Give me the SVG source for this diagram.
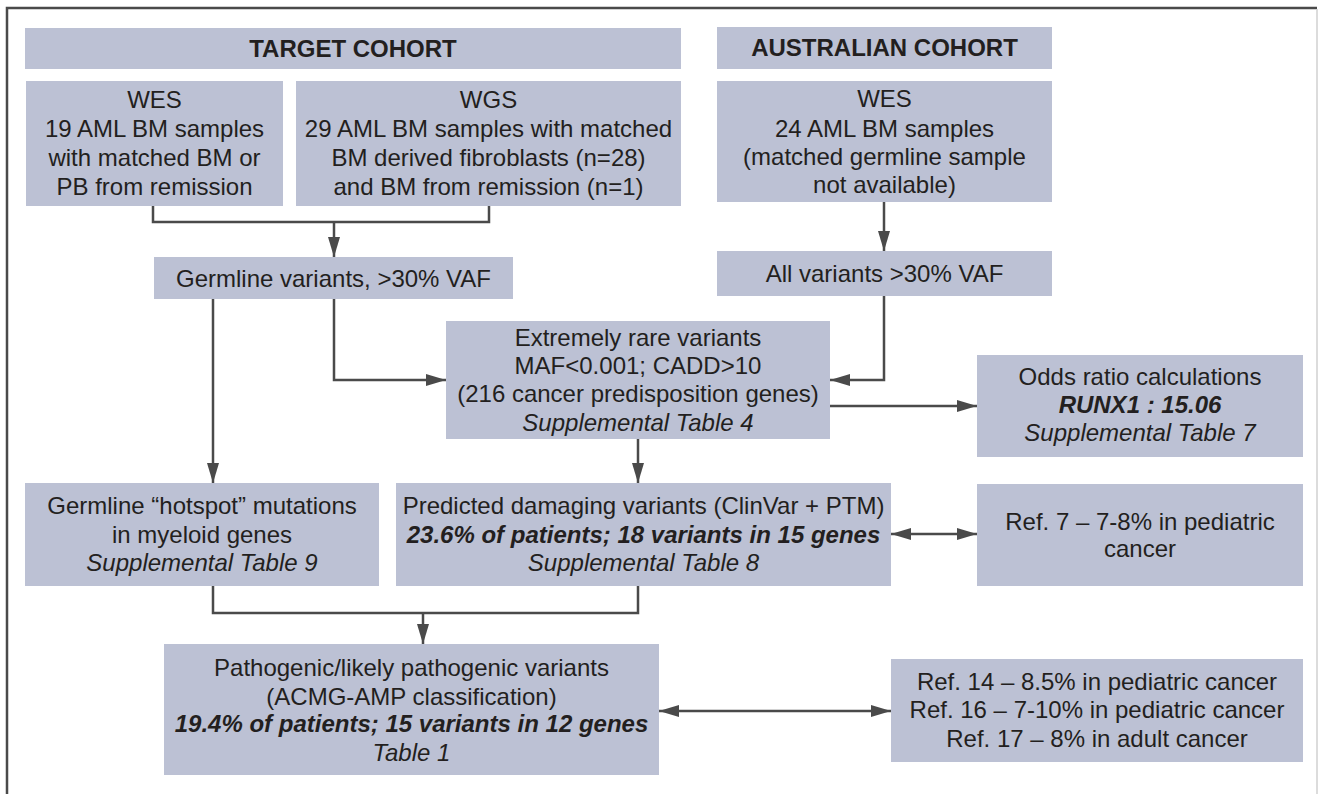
<svg xmlns="http://www.w3.org/2000/svg" width="1318" height="794" viewBox="0 0 1318 794">
<style>
.box{fill:#bcc1d4}
text{font-family:"Liberation Sans",Arial,sans-serif;font-size:24px;fill:#231f20;text-anchor:middle}
.hd{font-weight:bold}
.it{font-style:italic}
.bi{font-style:italic;font-weight:bold}
.c{fill:none;stroke:#4a4a4a;stroke-width:2.5}
</style>
<defs>
<marker id="ah" viewBox="0 0 20 12" markerUnits="userSpaceOnUse" markerWidth="20" markerHeight="12" refX="20" refY="6" orient="auto-start-reverse">
<path d="M0,0 L20,6 L0,12 z" fill="#4a4a4a"/>
</marker>
</defs>
<rect x="0" y="0" width="1318" height="794" fill="#ffffff"/>
<path d="M7,794 V8 H1317" fill="none" stroke="#4a4a4a" stroke-width="2.5"/>
<path d="M1317,9 V794" fill="none" stroke="#d0d0d0" stroke-width="1.5"/>

<g id="target-header"><rect class="box" x="25" y="28" width="656" height="41"/><text class="hd" x="353" y="56.5">TARGET COHORT</text></g>
<g id="aus-header"><rect class="box" x="717" y="27" width="335" height="42"/><text class="hd" x="884.5" y="56">AUSTRALIAN COHORT</text></g>
<g id="wes-target"><rect class="box" x="26" y="81" width="257" height="125"/>
<text x="154.5" y="107.5">WES</text><text x="154.5" y="136.5">19 AML BM samples</text><text x="154.5" y="165.5">with matched BM or</text><text x="154.5" y="194.5">PB from remission</text></g>
<g id="wgs-target"><rect class="box" x="296" y="81" width="385" height="125"/>
<text x="488.5" y="107.5">WGS</text><text x="488.5" y="136.5">29 AML BM samples with matched</text><text x="488.5" y="165.5">BM derived fibroblasts (n=28)</text><text x="488.5" y="194.5">and BM from remission (n=1)</text></g>
<g id="wes-aus"><rect class="box" x="717" y="81" width="335" height="121"/>
<text x="884.5" y="106.5">WES</text><text x="884.5" y="136.5">24 AML BM samples</text><text x="884.5" y="164.5">(matched germline sample</text><text x="884.5" y="192.5">not available)</text></g>
<g id="germline"><rect class="box" x="154" y="257" width="359" height="42"/><text x="333.5" y="286.5">Germline variants, &gt;30% VAF</text></g>
<g id="allvariants"><rect class="box" x="717" y="251" width="335" height="45"/><text x="884.5" y="281.5">All variants &gt;30% VAF</text></g>
<g id="extreme"><rect class="box" x="446" y="321" width="384" height="118"/>
<text x="638" y="345.5">Extremely rare variants</text><text x="638" y="373.5">MAF&lt;0.001; CADD&gt;10</text><text x="638" y="401.5">(216 cancer predisposition genes)</text><text class="it" x="638" y="430.5">Supplemental Table 4</text></g>
<g id="odds"><rect class="box" x="977" y="355" width="326" height="102"/>
<text x="1140" y="384.5">Odds ratio calculations</text><text class="bi" x="1140" y="412.5">RUNX1 : 15.06</text><text class="it" x="1140" y="440.5">Supplemental Table 7</text></g>
<g id="hotspot"><rect class="box" x="25" y="483" width="354" height="103"/>
<text x="202" y="513.5">Germline “hotspot” mutations</text><text x="202" y="542.5">in myeloid genes</text><text class="it" x="202" y="570.5">Supplemental Table 9</text></g>
<g id="predicted"><rect class="box" x="396" y="483" width="495" height="103"/>
<text x="643.5" y="513.5">Predicted damaging variants (ClinVar + PTM)</text><text class="bi" x="643.5" y="542.5">23.6% of patients; 18 variants in 15 genes</text><text class="it" x="643.5" y="570.5">Supplemental Table 8</text></g>
<g id="ref7"><rect class="box" x="977" y="484" width="326" height="102"/>
<text x="1140" y="529.5">Ref. 7 – 7-8% in pediatric</text><text x="1140" y="556.5">cancer</text></g>
<g id="pathogenic"><rect class="box" x="164" y="644" width="495" height="131"/>
<text x="411.5" y="675.5">Pathogenic/likely pathogenic variants</text><text x="411.5" y="704.5">(ACMG-AMP classification)</text><text class="bi" x="411.5" y="731.5">19.4% of patients; 15 variants in 12 genes</text><text class="it" x="411.5" y="760.5">Table 1</text></g>
<g id="refs"><rect class="box" x="891" y="659" width="412" height="103"/>
<text x="1097" y="689.5">Ref. 14 – 8.5% in pediatric cancer</text><text x="1097" y="717.5">Ref. 16 – 7-10% in pediatric cancer</text><text x="1097" y="746.5">Ref. 17 – 8% in adult cancer</text></g>

<g id="connectors">
<path class="c" d="M153,206 V222 H489 V206"/>
<path class="c" d="M334,222 V257" marker-end="url(#ah)"/>
<path class="c" d="M884,202 V251" marker-end="url(#ah)"/>
<path class="c" d="M213,299 V483" marker-end="url(#ah)"/>
<path class="c" d="M334,299 V380 H446" marker-end="url(#ah)"/>
<path class="c" d="M884,296 V380 H830" marker-end="url(#ah)"/>
<path class="c" d="M830,406 H977" marker-end="url(#ah)"/>
<path class="c" d="M638,439 V483" marker-end="url(#ah)"/>
<path class="c" d="M891,534 H977" marker-start="url(#ah)" marker-end="url(#ah)"/>
<path class="c" d="M213,586 V613 H638 V586"/>
<path class="c" d="M423,613 V644" marker-end="url(#ah)"/>
<path class="c" d="M659,711 H891" marker-start="url(#ah)" marker-end="url(#ah)"/>
</g>
</svg>
